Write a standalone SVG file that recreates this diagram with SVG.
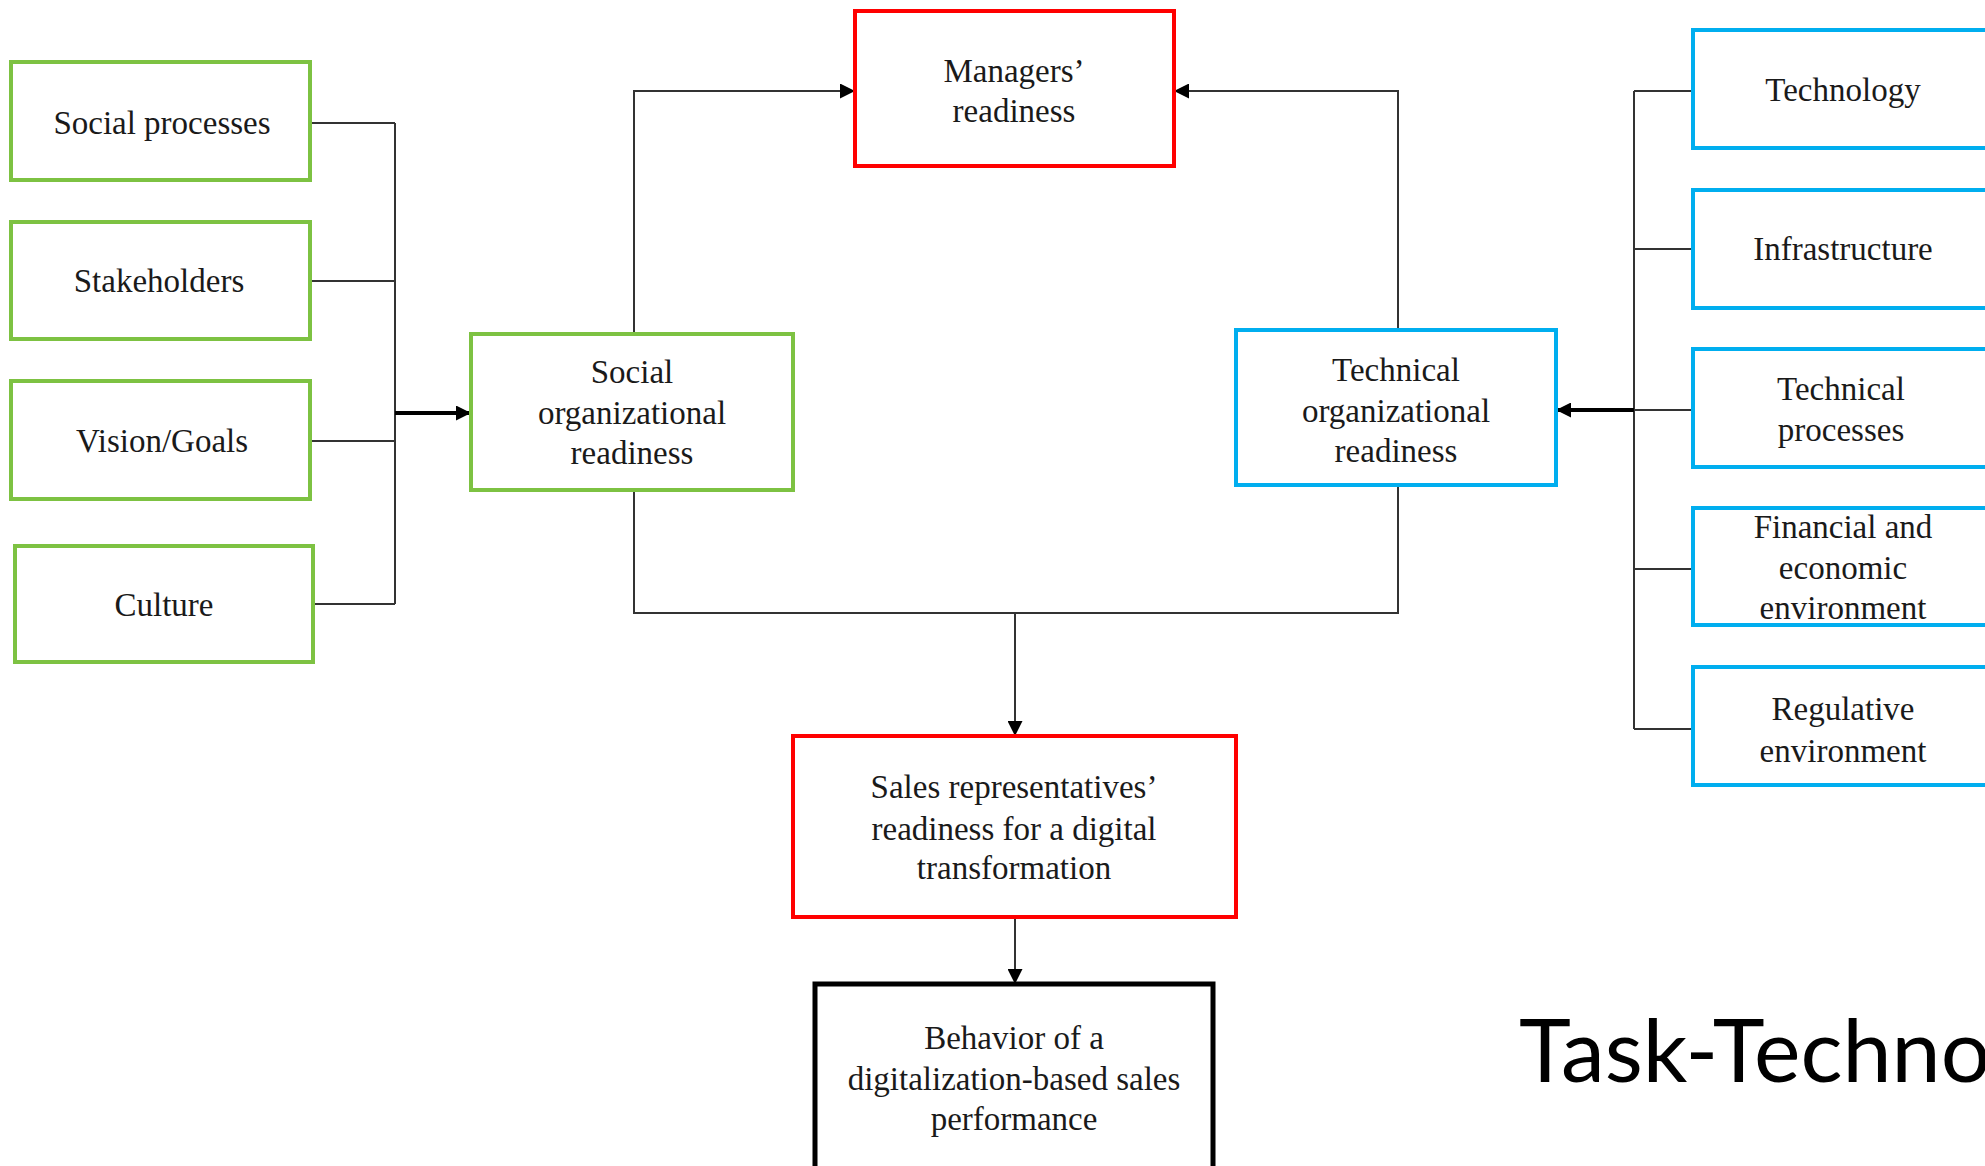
<svg xmlns="http://www.w3.org/2000/svg" width="1985" height="1166" viewBox="0 0 1985 1166">
<style>
.g{fill:#fff;stroke:#7dc242;stroke-width:4}
.b{fill:#fff;stroke:#00aeef;stroke-width:4}
.r{fill:#fff;stroke:#f00;stroke-width:4}
.k{fill:#fff;stroke:#000;stroke-width:5}
.t{font-family:"Liberation Serif","Times New Roman",serif;font-size:33px;fill:#1a1a1a;text-anchor:middle}
.c{fill:none;stroke:#333;stroke-width:2}
.ct{fill:none;stroke:#000;stroke-width:4}
</style>
<defs>
<marker id="ah" viewBox="0 0 10 10" refX="10" refY="5" markerUnits="userSpaceOnUse" markerWidth="16" markerHeight="15" orient="auto">
<path d="M0,0 L10,5 L0,10 Z" fill="#000"/>
</marker>
</defs>
<g id="connectors">
<path class="c" d="M310,123 H395 M310,281 H395 M310,441 H395 M313,604 H395 M395,123 V604"/>
<path class="ct" d="M395,413 H471" marker-end="url(#ah)"/>
<path class="c" d="M634,334 V91 H855" marker-end="url(#ah)"/>
<path class="c" d="M1398,330 V91 H1174" marker-end="url(#ah)"/>
<path class="c" d="M634,490 V613 H1398 V485"/>
<path class="c" stroke-width="3" d="M1015,613 V736" marker-end="url(#ah)"/>
<path class="c" d="M1015,917 V984" marker-end="url(#ah)"/>
<path class="c" d="M1634,91 V729 M1634,91 H1693 M1634,249 H1693 M1634,410 H1693 M1634,569 H1693 M1634,729 H1693"/>
<path class="ct" d="M1634,410 H1556" marker-end="url(#ah)"/>
</g>
<g id="social-processes"><rect class="g" x="11" y="62" width="299" height="118"/><text class="t" x="162" y="134">Social processes</text></g>
<g id="stakeholders"><rect class="g" x="11" y="222" width="299" height="117"/><text class="t" x="159" y="292">Stakeholders</text></g>
<g id="vision-goals"><rect class="g" x="11" y="381" width="299" height="118"/><text class="t" x="162" y="452">Vision/Goals</text></g>
<g id="culture"><rect class="g" x="15" y="546" width="298" height="116"/><text class="t" x="164" y="616">Culture</text></g>
<g id="social-org"><rect class="g" x="471" y="334" width="322" height="156"/><text class="t" x="632" y="383">Social</text><text class="t" x="632" y="424">organizational</text><text class="t" x="632" y="464">readiness</text></g>
<g id="managers"><rect class="r" x="855" y="11" width="319" height="155"/><text class="t" x="1014" y="82">Managers’</text><text class="t" x="1014" y="122">readiness</text></g>
<g id="technical-org"><rect class="b" x="1236" y="330" width="320" height="155"/><text class="t" x="1396" y="381">Technical</text><text class="t" x="1396" y="422">organizational</text><text class="t" x="1396" y="462">readiness</text></g>
<g id="sales-reps"><rect class="r" x="793" y="736" width="443" height="181"/><text class="t" x="1014" y="798">Sales representatives’</text><text class="t" x="1014" y="840">readiness for a digital</text><text class="t" x="1014" y="879">transformation</text></g>
<g id="behavior"><rect class="k" x="815" y="984" width="398" height="200"/><text class="t" x="1014" y="1049">Behavior of a</text><text class="t" x="1014" y="1090">digitalization-based  sales</text><text class="t" x="1014" y="1130">performance</text></g>
<g id="technology"><rect class="b" x="1693" y="30" width="300" height="118"/><text class="t" x="1843" y="101">Technology</text></g>
<g id="infrastructure"><rect class="b" x="1693" y="190" width="300" height="118"/><text class="t" x="1843" y="260">Infrastructure</text></g>
<g id="technical-processes"><rect class="b" x="1693" y="349" width="300" height="118"/><text class="t" x="1841" y="400">Technical</text><text class="t" x="1841" y="441">processes</text></g>
<g id="financial"><rect class="b" x="1693" y="508" width="300" height="117"/><text class="t" x="1843" y="538">Financial  and</text><text class="t" x="1843" y="579">economic</text><text class="t" x="1843" y="619">environment</text></g>
<g id="regulative"><rect class="b" x="1693" y="667" width="300" height="118"/><text class="t" x="1843" y="720">Regulative</text><text class="t" x="1843" y="762">environment</text></g>
<text x="1519" y="1082" font-family="Lato,'Open Sans',sans-serif" font-size="88" fill="#000">Task-Techno</text>
</svg>
